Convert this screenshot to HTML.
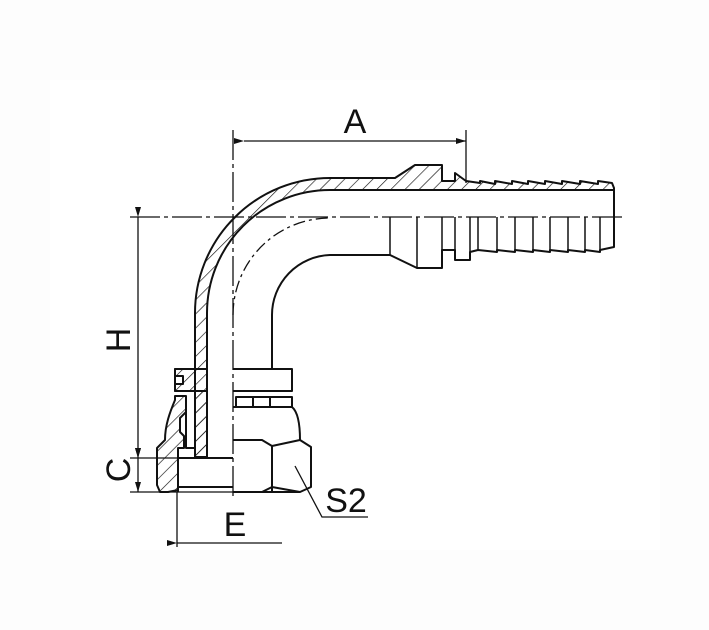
<!DOCTYPE html>
<html><head><meta charset="utf-8"><style>
html,body{margin:0;padding:0;background:#fdfdfd;}
svg{display:block}
text{font-family:"Liberation Sans",sans-serif;fill:#111}
</style></head><body>
<svg width="709" height="630" viewBox="0 0 709 630" xmlns="http://www.w3.org/2000/svg">
<defs>
<pattern id="h" patternUnits="userSpaceOnUse" width="10" height="10" patternTransform="rotate(45)">
<line x1="0" y1="0" x2="0" y2="10" stroke="#111" stroke-width="1.3"/>
</pattern>
<marker id="ar" markerWidth="10" markerHeight="6" refX="10" refY="3" orient="auto" markerUnits="userSpaceOnUse">
<path d="M0,0 L10,3 L0,6 Z" fill="#111"/>
</marker>
</defs>
<rect x="50" y="80" width="610" height="470" fill="#fff"/>
<g stroke="#111" stroke-width="2" fill="none" stroke-linejoin="round">
<path d="M195,368 L195,313 A135,135 0 0 1 330,178 L395,178 L415,165 L442,165 L442,181 L455,181 L455,173 L466,181 L480,183 L480,181 L495,184 L495,181 L512,184 L512,181 L528,184 L528,181 L545,184 L545,181 L562,184 L562,181 L580,184 L580,181 L598,184 L598,181 L612,183 L614,188 L614,190 L330,190 A123,123 0 0 0 207,313 L207,457 L195,457 Z" fill="url(#h)"/>
<path d="M614,190 L614,247 L600,250 L600,252 L585,250 L585,252 L568,250 L568,252 L550,250 L550,252 L533,250 L533,252 L515,250 L515,252 L497,250 L497,252 L478,250 L470,252 L470,260 L455,260 L455,250 L442,250 L442,268 L417,268 L390,255 L330,255 A60,60 0 0 0 272,315 L272,369"/>
<g stroke-width="1.5">
<path d="M390,217 L390,255 M417,217 L417,268 M442,217 L442,250 M455,217 L455,260 M470,217 L470,252 M478,217 L478,250 M497,217 L497,250 M515,217 L515,250 M533,217 L533,250 M550,217 L550,250 M568,217 L568,250 M585,217 L585,250 M600,217 L600,250"/>
</g>
<path d="M175,369 L195,369 L195,457 L207,457 L207,391 L175,391 L175,384 L183,384 L183,376 L175,376 Z" fill="url(#h)"/>
<path d="M175,369 L207,369 L207,391 L175,391 Z"/>
<path d="M233,369 L292,369 L292,391 L233,391"/>
<path d="M236,397 L292,397 L292,407 L236,407 Z M253,397 L253,407 M270,397 L270,407"/>
<path d="M157,448 L165,440 C165,425 170,412 175,400 L175,396 L186,396 L186,412 L180,418 L180,432 L184,436 L184,448 L178,448 L178,490 L168,492 L160,492 L157,485 Z" fill="url(#h)"/>
<path d="M186,412 L186,448 L195,448 L195,457 M178,448 L178,492"/>
<path d="M178,458 L233,458 M178,487 L233,487"/>
<path d="M233,407 L292,407 C298,412 300,425 300,440 L311,447 L311,487 L300,492 L233,492"/>
<path d="M233,440 L262,440 L272,446 L300,440 M272,446 L272,492 M262,492 L272,487 L300,492"/>
</g>
<g stroke="#111" stroke-width="1.3" fill="none">
<path d="M130,217 L625,217" stroke-dasharray="30,4,4,4"/>
<path d="M233,130 L233,500" stroke-dasharray="30,4,4,4"/>
<path d="M233,315 A97,97 0 0 1 330,218" stroke-dasharray="12,4,3,4"/>
<path d="M466,130 L466,183"/>
<path d="M244,141 L466,141" marker-start="url(#ar)" marker-end="url(#ar)"/>
<path d="M138,217 L138,458" marker-start="url(#ar)" marker-end="url(#ar)"/>
<path d="M130,458 L180,458 M130,492 L262,492"/>
<path d="M138,458 L138,492" marker-start="url(#ar)" marker-end="url(#ar)"/>
<path d="M177,492 L177,547"/>
<path d="M177,543 L282,543" marker-start="url(#ar)"/>
<path d="M295,466 L322,517 L368,517"/>
</g>
<text x="355" y="133" font-size="34" text-anchor="middle">A</text>
<text x="0" y="0" font-size="34" text-anchor="middle" transform="translate(130,340) rotate(-90)">H</text>
<text x="0" y="0" font-size="34" text-anchor="middle" transform="translate(130,470) rotate(-90)">C</text>
<text x="235" y="536" font-size="34" text-anchor="middle">E</text>
<text x="346" y="512" font-size="34" text-anchor="middle">S2</text>
</svg>
</body></html>
